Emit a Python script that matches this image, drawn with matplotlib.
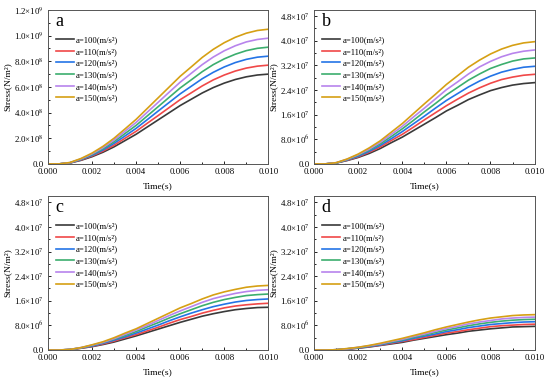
import matplotlib
matplotlib.use("Agg")
import matplotlib.pyplot as plt
from matplotlib.ticker import MultipleLocator

# -----------------------------
# FONTS
# -----------------------------
plt.rcParams['font.family'] = ['Liberation Serif', 'DejaVu Serif']
plt.rcParams['mathtext.fontset'] = 'stix'

# -----------------------------
# DATA
# -----------------------------
time_s = [0.0000, 0.0005, 0.0010, 0.0015, 0.0020, 0.0025, 0.0030, 0.0035, 0.0040, 0.0045,
          0.0050, 0.0055, 0.0060, 0.0065, 0.0070, 0.0075, 0.0080, 0.0085, 0.0090, 0.0095, 0.0100]

accel_labels = ["a=100(m/s²)", "a=110(m/s²)", "a=120(m/s²)",
                "a=130(m/s²)", "a=140(m/s²)", "a=150(m/s²)"]

# panel a, stress in 1e8 N/m2
stress_a_100 = [0, 0, 0.07, 0.28, 0.56, 0.91, 1.33, 1.82, 2.31, 2.87, 3.43, 3.99, 4.55, 5.04, 5.53, 5.95, 6.30, 6.58, 6.79, 6.93, 7.00]
stress_a_110 = [0, 0, 0.08, 0.31, 0.62, 1.00, 1.46, 2.00, 2.54, 3.16, 3.77, 4.39, 5.01, 5.54, 6.08, 6.55, 6.93, 7.24, 7.47, 7.62, 7.70]
stress_a_120 = [0, 0, 0.08, 0.34, 0.67, 1.09, 1.60, 2.18, 2.77, 3.44, 4.12, 4.79, 5.46, 6.05, 6.64, 7.14, 7.56, 7.90, 8.15, 8.32, 8.40]
stress_a_130 = [0, 0, 0.09, 0.36, 0.73, 1.18, 1.73, 2.37, 3.00, 3.73, 4.46, 5.19, 5.92, 6.55, 7.19, 7.74, 8.19, 8.55, 8.83, 9.01, 9.10]
stress_a_140 = [0, 0, 0.10, 0.39, 0.78, 1.27, 1.86, 2.55, 3.23, 4.02, 4.80, 5.59, 6.37, 7.06, 7.74, 8.33, 8.82, 9.21, 9.51, 9.70, 9.80]
stress_a_150 = [0, 0, 0.11, 0.42, 0.84, 1.37, 2.00, 2.73, 3.47, 4.31, 5.15, 5.99, 6.83, 7.56, 8.30, 8.93, 9.45, 9.87, 10.19, 10.40, 10.50]

# panel b, stress in 1e7 N/m2
stress_b_100 = [0, 0, 0.03, 0.11, 0.21, 0.34, 0.50, 0.69, 0.87, 1.08, 1.29, 1.50, 1.72, 1.90, 2.09, 2.24, 2.38, 2.48, 2.56, 2.61, 2.64]
stress_b_110 = [0, 0, 0.03, 0.12, 0.23, 0.38, 0.55, 0.76, 0.96, 1.19, 1.43, 1.66, 1.89, 2.10, 2.30, 2.47, 2.62, 2.74, 2.82, 2.88, 2.91]
stress_b_120 = [0, 0, 0.03, 0.13, 0.25, 0.41, 0.60, 0.82, 1.05, 1.30, 1.55, 1.81, 2.06, 2.28, 2.50, 2.69, 2.85, 2.98, 3.07, 3.14, 3.17]
stress_b_130 = [0, 0, 0.03, 0.14, 0.28, 0.45, 0.65, 0.89, 1.14, 1.41, 1.69, 1.96, 2.24, 2.48, 2.72, 2.92, 3.10, 3.23, 3.34, 3.41, 3.44]
stress_b_140 = [0, 0, 0.04, 0.15, 0.30, 0.48, 0.70, 0.96, 1.22, 1.52, 1.81, 2.11, 2.41, 2.66, 2.92, 3.15, 3.33, 3.48, 3.59, 3.66, 3.70]
stress_b_150 = [0, 0, 0.04, 0.16, 0.32, 0.52, 0.75, 1.03, 1.31, 1.63, 1.95, 2.26, 2.58, 2.86, 3.14, 3.37, 3.57, 3.73, 3.85, 3.93, 3.97]

# panel c, stress in 1e7 N/m2
stress_c_100 = [0, 0, 0.01, 0.06, 0.11, 0.18, 0.26, 0.36, 0.46, 0.57, 0.68, 0.79, 0.90, 1.00, 1.10, 1.18, 1.25, 1.31, 1.35, 1.38, 1.39]
stress_c_110 = [0, 0, 0.02, 0.06, 0.12, 0.20, 0.29, 0.40, 0.50, 0.62, 0.74, 0.87, 0.99, 1.09, 1.20, 1.29, 1.37, 1.43, 1.47, 1.50, 1.52]
stress_c_120 = [0, 0, 0.02, 0.07, 0.13, 0.22, 0.32, 0.43, 0.55, 0.68, 0.81, 0.95, 1.08, 1.20, 1.31, 1.41, 1.49, 1.56, 1.61, 1.64, 1.66]
stress_c_130 = [0, 0, 0.02, 0.07, 0.15, 0.24, 0.35, 0.47, 0.60, 0.75, 0.89, 1.04, 1.18, 1.31, 1.44, 1.55, 1.64, 1.71, 1.77, 1.80, 1.82]
stress_c_140 = [0, 0, 0.02, 0.08, 0.16, 0.25, 0.37, 0.51, 0.65, 0.80, 0.96, 1.12, 1.27, 1.41, 1.55, 1.67, 1.76, 1.84, 1.90, 1.94, 1.96]
stress_c_150 = [0, 0, 0.02, 0.08, 0.17, 0.27, 0.40, 0.55, 0.69, 0.86, 1.03, 1.20, 1.37, 1.51, 1.66, 1.79, 1.89, 1.97, 2.04, 2.08, 2.10]

# panel d, stress in 1e7 N/m2
stress_d_100 = [0, 0, 0.01, 0.03, 0.06, 0.10, 0.15, 0.20, 0.25, 0.32, 0.38, 0.44, 0.50, 0.55, 0.61, 0.65, 0.69, 0.72, 0.75, 0.76, 0.77]
stress_d_110 = [0, 0, 0.01, 0.03, 0.07, 0.11, 0.16, 0.22, 0.28, 0.34, 0.41, 0.48, 0.55, 0.60, 0.66, 0.71, 0.76, 0.79, 0.81, 0.83, 0.84]
stress_d_120 = [0, 0, 0.01, 0.04, 0.07, 0.12, 0.17, 0.24, 0.30, 0.38, 0.45, 0.52, 0.60, 0.66, 0.73, 0.78, 0.83, 0.86, 0.89, 0.91, 0.92]
stress_d_130 = [0, 0, 0.01, 0.04, 0.08, 0.13, 0.19, 0.26, 0.33, 0.41, 0.49, 0.57, 0.65, 0.72, 0.79, 0.85, 0.90, 0.94, 0.97, 0.99, 1.00]
stress_d_140 = [0, 0, 0.01, 0.04, 0.09, 0.14, 0.20, 0.28, 0.35, 0.44, 0.52, 0.61, 0.70, 0.77, 0.85, 0.91, 0.96, 1.01, 1.04, 1.06, 1.07]
stress_d_150 = [0, 0, 0.01, 0.05, 0.09, 0.15, 0.22, 0.30, 0.38, 0.47, 0.56, 0.66, 0.75, 0.83, 0.91, 0.98, 1.04, 1.08, 1.12, 1.14, 1.15]

xtick_vals = [0.000, 0.002, 0.004, 0.006, 0.008, 0.010]
xtick_labels = ["0.000", "0.002", "0.004", "0.006", "0.008", "0.010"]

ytick_vals_a = [0, 2e8, 4e8, 6e8, 8e8, 1.0e9, 1.2e9]
ytick_labels_a = ["0.0", "2.0×10$^{8}$", "4.0×10$^{8}$", "6.0×10$^{8}$",
                  "8.0×10$^{8}$", "1.0×10$^{9}$", "1.2×10$^{9}$"]
ytick_vals_bcd = [0, 8e6, 1.6e7, 2.4e7, 3.2e7, 4.0e7, 4.8e7]
ytick_labels_bcd = ["0.0", "8.0×10$^{6}$", "1.6×10$^{7}$", "2.4×10$^{7}$",
                    "3.2×10$^{7}$", "4.0×10$^{7}$", "4.8×10$^{7}$"]

line_colors = ["#3a3a3a", "#f04848", "#2474e6", "#3cae6e", "#b884ec", "#d6a014"]

# -----------------------------
# DRAW ONE PANEL
# -----------------------------
def draw_panel(ax, series, unit, letter, yvals, ylabels, ytop, yminor):
    for vals, lab, col in zip(series, accel_labels, line_colors):
        ax.plot(time_s, [v * unit for v in vals], color=col, lw=1.2, label=lab)

    ax.set_xlim(0, 0.010)
    ax.set_ylim(0, ytop)
    ax.set_xticks(xtick_vals)
    ax.set_xticklabels(xtick_labels)
    ax.set_yticks(yvals)
    ax.set_yticklabels(ylabels)
    ax.xaxis.set_minor_locator(MultipleLocator(0.001))
    ax.yaxis.set_minor_locator(MultipleLocator(yminor))
    ax.tick_params(which='both', direction='in', labelsize=6.3, width=0.6)
    ax.tick_params(axis='x', pad=3.0)
    ax.tick_params(axis='y', pad=3)
    ax.tick_params(which='major', length=2.5)
    ax.tick_params(which='minor', length=1.3)
    for sp in ax.spines.values():
        sp.set_linewidth(0.7)
        sp.set_color("#555555")

    ax.set_xlabel("Time(s)", fontsize=6.8, labelpad=4.5)
    ax.set_ylabel("Stress(N/m²)", fontsize=6.8, labelpad=2)
    ax.text(0.035, 0.925, letter, transform=ax.transAxes, fontsize=13,
            ha='left', va='center')

    ax.legend(loc='upper left', bbox_to_anchor=(0.035, 0.83), frameon=False,
              fontsize=6.2, handlelength=2.1, handletextpad=0.3,
              labelspacing=0.42, borderpad=0, borderaxespad=0)


# -----------------------------
# FIGURE
# -----------------------------
fig = plt.figure(figsize=(5.5, 3.83), dpi=100)

ax_a = fig.add_axes([0.087, 0.572, 0.401, 0.402])
ax_b = fig.add_axes([0.571, 0.572, 0.401, 0.402])
ax_c = fig.add_axes([0.087, 0.086, 0.401, 0.402])
ax_d = fig.add_axes([0.571, 0.086, 0.401, 0.402])

draw_panel(ax_a, [stress_a_100, stress_a_110, stress_a_120, stress_a_130, stress_a_140, stress_a_150],
           1e8, "a", ytick_vals_a, ytick_labels_a, 1.2e9, 1e8)
draw_panel(ax_b, [stress_b_100, stress_b_110, stress_b_120, stress_b_130, stress_b_140, stress_b_150],
           1e7, "b", ytick_vals_bcd, ytick_labels_bcd, 5.0e7, 4e6)
draw_panel(ax_c, [stress_c_100, stress_c_110, stress_c_120, stress_c_130, stress_c_140, stress_c_150],
           1e7, "c", ytick_vals_bcd, ytick_labels_bcd, 5.0e7, 4e6)
draw_panel(ax_d, [stress_d_100, stress_d_110, stress_d_120, stress_d_130, stress_d_140, stress_d_150],
           1e7, "d", ytick_vals_bcd, ytick_labels_bcd, 5.0e7, 4e6)

fig.savefig("out.png", dpi=100)
